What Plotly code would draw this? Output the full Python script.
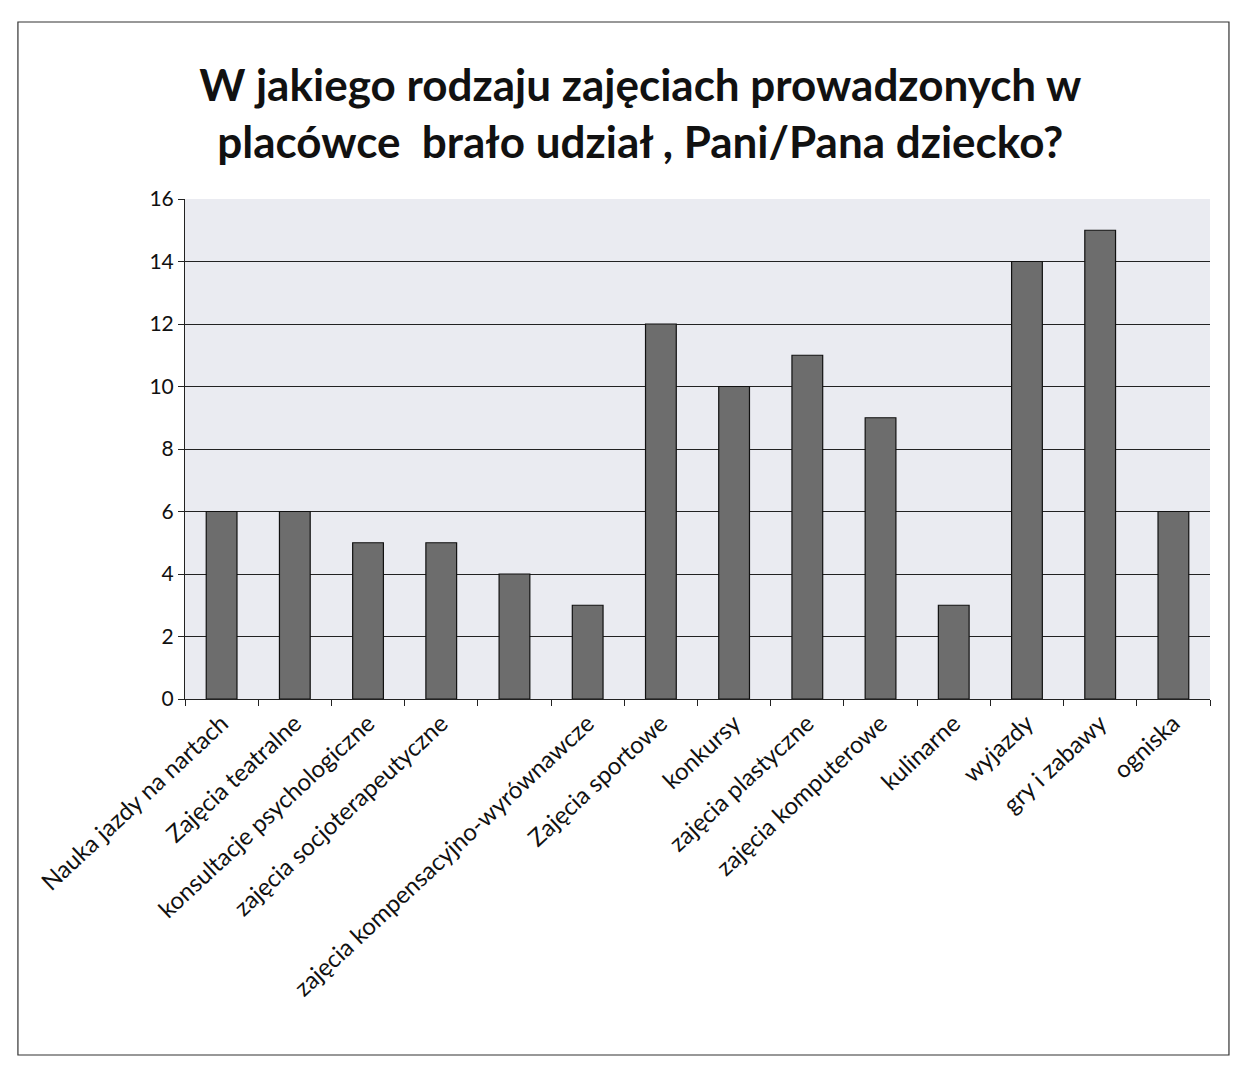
import plotly.graph_objects as go

kategorie = [
    "Nauka jazdy na nartach",
    "Zajęcia teatralne",
    "konsultacje psychologiczne",
    "zajęcia socjoterapeutyczne",
    " ",
    "zajęcia kompensacyjno-wyrównawcze",
    "Zajęcia sportowe",
    "konkursy",
    "zajęcia plastyczne",
    "zajęcia komputerowe",
    "kulinarne",
    "wyjazdy",
    "gry i zabawy",
    "ogniska",
]
liczba = [6, 6, 5, 5, 4, 3, 12, 10, 11, 9, 3, 14, 15, 6]
y_ticks = [0, 2, 4, 6, 8, 10, 12, 14, 16]

FONT = "Lato"

fig = go.Figure()
fig.add_trace(go.Bar(x=kategorie, y=liczba, marker_color="#6d6d6d",
                     marker_line=dict(color="#111111", width=1.2), showlegend=False))

# strona ma 8px marginesu body, więc figura jest mniejsza o 16px
fig.update_layout(
    width=1223, height=1072,
    paper_bgcolor="white",
    plot_bgcolor="#eaebf1",
    font=dict(family=FONT, color="#111111", size=18),
    margin=dict(l=177, r=21, t=191, b=381),
    bargap=0.58,
    title=dict(text="W jakiego rodzaju zajęciach prowadzonych w<br>placówce  brało udział , Pani/Pana dziecko?",
               font=dict(family=FONT, size=44, color="#111111", weight="bold"),
               x=0.517, xanchor="center", y=0.913, yanchor="middle"),
    xaxis=dict(tickangle=-43, tickfont=dict(size=24), showline=True, linecolor="#222",
               ticks="outside", tickson="boundaries", ticklen=6, tickcolor="#222"),
    yaxis=dict(range=[0, 16], tickvals=y_ticks, showgrid=True, gridcolor="#222", gridwidth=1,
               showline=True, linecolor="#222", ticks="outside", ticklen=6, tickcolor="#222",
               tickfont=dict(size=21), zeroline=False),
    shapes=[dict(type="rect", xref="paper", yref="paper", x0=-0.163, x1=1.0185, y0=-0.712, y1=1.354,
                 line=dict(color="#333", width=1.2), fillcolor="rgba(0,0,0,0)")],
)

fig.write_html("out.html")
